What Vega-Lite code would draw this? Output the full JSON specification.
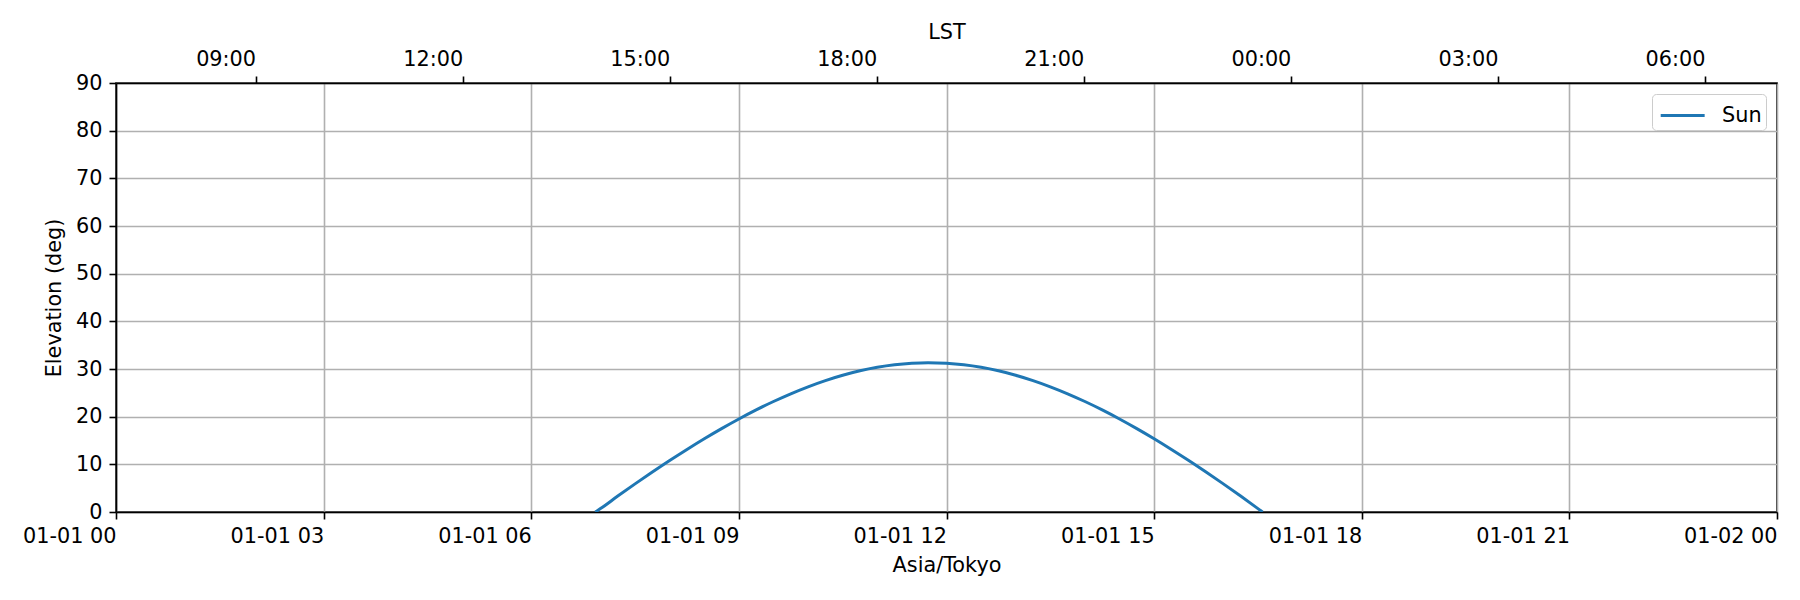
{
  "$schema": "https://vega.github.io/schema/vega-lite/v6.json",
  "width": 1661,
  "height": 429,
  "autosize": {"type": "none"},
  "padding": {"left": 116, "top": 83, "right": 23, "bottom": 88},
  "background": "white",
  "config": {
    "view": {"stroke": "black", "strokeWidth": 1.6},
    "font": "DejaVu Sans",
    "axis": {
      "labelFont": "DejaVu Sans",
      "labelFontSize": 20.8,
      "labelColor": "black",
      "titleFont": "DejaVu Sans",
      "titleFontSize": 20.8,
      "titleFontWeight": "normal",
      "titleColor": "black",
      "domainColor": "black",
      "domainWidth": 1.6,
      "tickColor": "black",
      "tickWidth": 1.6,
      "tickSize": 7,
      "labelPadding": 7,
      "gridColor": "#b0b0b0",
      "gridWidth": 1.6,
      "labelOverlap": false,
      "labelFlush": false
    },
    "legend": {
      "labelFont": "DejaVu Sans",
      "labelFontSize": 20.8,
      "labelColor": "black"
    }
  },
  "data": {
    "values": [
      {"time": "2024-01-01T06:55:30Z", "elevation": 0, "body": "Sun"},
      {"time": "2024-01-01T07:00:00Z", "elevation": 0.71, "body": "Sun"},
      {"time": "2024-01-01T07:15:00Z", "elevation": 3.34, "body": "Sun"},
      {"time": "2024-01-01T07:30:00Z", "elevation": 5.90, "body": "Sun"},
      {"time": "2024-01-01T07:45:00Z", "elevation": 8.39, "body": "Sun"},
      {"time": "2024-01-01T08:00:00Z", "elevation": 10.81, "body": "Sun"},
      {"time": "2024-01-01T08:15:00Z", "elevation": 13.13, "body": "Sun"},
      {"time": "2024-01-01T08:30:00Z", "elevation": 15.37, "body": "Sun"},
      {"time": "2024-01-01T08:45:00Z", "elevation": 17.50, "body": "Sun"},
      {"time": "2024-01-01T09:00:00Z", "elevation": 19.52, "body": "Sun"},
      {"time": "2024-01-01T09:15:00Z", "elevation": 21.42, "body": "Sun"},
      {"time": "2024-01-01T09:30:00Z", "elevation": 23.18, "body": "Sun"},
      {"time": "2024-01-01T09:45:00Z", "elevation": 24.80, "body": "Sun"},
      {"time": "2024-01-01T10:00:00Z", "elevation": 26.27, "body": "Sun"},
      {"time": "2024-01-01T10:15:00Z", "elevation": 27.57, "body": "Sun"},
      {"time": "2024-01-01T10:30:00Z", "elevation": 28.69, "body": "Sun"},
      {"time": "2024-01-01T10:45:00Z", "elevation": 29.62, "body": "Sun"},
      {"time": "2024-01-01T11:00:00Z", "elevation": 30.35, "body": "Sun"},
      {"time": "2024-01-01T11:15:00Z", "elevation": 30.88, "body": "Sun"},
      {"time": "2024-01-01T11:30:00Z", "elevation": 31.20, "body": "Sun"},
      {"time": "2024-01-01T11:44:00Z", "elevation": 31.32, "body": "Sun"},
      {"time": "2024-01-01T12:00:00Z", "elevation": 31.20, "body": "Sun"},
      {"time": "2024-01-01T12:15:00Z", "elevation": 30.88, "body": "Sun"},
      {"time": "2024-01-01T12:30:00Z", "elevation": 30.35, "body": "Sun"},
      {"time": "2024-01-01T12:45:00Z", "elevation": 29.62, "body": "Sun"},
      {"time": "2024-01-01T13:00:00Z", "elevation": 28.69, "body": "Sun"},
      {"time": "2024-01-01T13:15:00Z", "elevation": 27.57, "body": "Sun"},
      {"time": "2024-01-01T13:30:00Z", "elevation": 26.27, "body": "Sun"},
      {"time": "2024-01-01T13:45:00Z", "elevation": 24.80, "body": "Sun"},
      {"time": "2024-01-01T14:00:00Z", "elevation": 23.18, "body": "Sun"},
      {"time": "2024-01-01T14:15:00Z", "elevation": 21.42, "body": "Sun"},
      {"time": "2024-01-01T14:30:00Z", "elevation": 19.52, "body": "Sun"},
      {"time": "2024-01-01T14:45:00Z", "elevation": 17.50, "body": "Sun"},
      {"time": "2024-01-01T15:00:00Z", "elevation": 15.37, "body": "Sun"},
      {"time": "2024-01-01T15:15:00Z", "elevation": 13.13, "body": "Sun"},
      {"time": "2024-01-01T15:30:00Z", "elevation": 10.81, "body": "Sun"},
      {"time": "2024-01-01T15:45:00Z", "elevation": 8.39, "body": "Sun"},
      {"time": "2024-01-01T16:00:00Z", "elevation": 5.90, "body": "Sun"},
      {"time": "2024-01-01T16:15:00Z", "elevation": 3.34, "body": "Sun"},
      {"time": "2024-01-01T16:30:00Z", "elevation": 0.71, "body": "Sun"},
      {"time": "2024-01-01T16:34:00Z", "elevation": 0, "body": "Sun"}
    ]
  },
  "layer": [
    {
      "mark": {"type": "line", "strokeWidth": 3, "interpolate": "monotone", "clip": true},
      "encoding": {
        "x": {
          "field": "time",
          "type": "temporal",
          "scale": {
            "type": "utc",
            "domain": [
              {"year": 2024, "month": 1, "date": 1, "hours": 0, "utc": true},
              {"year": 2024, "month": 1, "date": 2, "hours": 0, "utc": true}
            ]
          },
          "axis": {
            "orient": "bottom",
            "title": "Asia/Tokyo",
            "titlePadding": 10,
            "labelExpr": "utcFormat(datum.value, '%m-%d %H')",
            "labelAlign": "right",
            "grid": true,
            "values": [
              {"year": 2024, "month": 1, "date": 1, "hours": 0, "utc": true},
              {"year": 2024, "month": 1, "date": 1, "hours": 3, "utc": true},
              {"year": 2024, "month": 1, "date": 1, "hours": 6, "utc": true},
              {"year": 2024, "month": 1, "date": 1, "hours": 9, "utc": true},
              {"year": 2024, "month": 1, "date": 1, "hours": 12, "utc": true},
              {"year": 2024, "month": 1, "date": 1, "hours": 15, "utc": true},
              {"year": 2024, "month": 1, "date": 1, "hours": 18, "utc": true},
              {"year": 2024, "month": 1, "date": 1, "hours": 21, "utc": true},
              {"year": 2024, "month": 1, "date": 2, "hours": 0, "utc": true}
            ]
          }
        },
        "y": {
          "field": "elevation",
          "type": "quantitative",
          "scale": {"domain": [0, 90], "nice": false, "zero": false},
          "axis": {
            "title": "Elevation (deg)",
            "values": [0, 10, 20, 30, 40, 50, 60, 70, 80, 90],
            "grid": true,
            "titlePadding": 11
          }
        },
        "color": {
          "field": "body",
          "type": "nominal",
          "scale": {"range": ["#1f77b4"]},
          "legend": {
            "title": null,
            "orient": "top-right",
            "offset": 11,
            "symbolType": "M-0.81,0L1.97,0",
            "symbolStrokeWidth": 3,
            "symbolSize": 1000,
            "labelOffset": 31,
            "padding": 4,
            "strokeColor": "#cccccc",
            "fillColor": "white",
            "cornerRadius": 4
          }
        }
      }
    },
    {
      "data": {
        "values": [
          {"lst": "2024-01-01T09:00:00Z"},
          {"lst": "2024-01-01T12:00:00Z"},
          {"lst": "2024-01-01T15:00:00Z"},
          {"lst": "2024-01-01T18:00:00Z"},
          {"lst": "2024-01-01T21:00:00Z"},
          {"lst": "2024-01-02T00:00:00Z"},
          {"lst": "2024-01-02T03:00:00Z"},
          {"lst": "2024-01-02T06:00:00Z"}
        ]
      },
      "mark": {"type": "rule", "opacity": 0},
      "encoding": {
        "x": {
          "field": "lst",
          "type": "temporal",
          "scale": {
            "type": "utc",
            "domain": [
              {"year": 2024, "month": 1, "date": 1, "hours": 6, "minutes": 58, "seconds": 40, "utc": true},
              {"year": 2024, "month": 1, "date": 2, "hours": 7, "minutes": 2, "seconds": 37, "utc": true}
            ]
          },
          "axis": {
            "orient": "top",
            "title": "LST",
            "titlePadding": 6,
            "labelExpr": "utcFormat(datum.value, '%H:%M')",
            "labelAlign": "right",
            "grid": false,
            "values": [
              {"year": 2024, "month": 1, "date": 1, "hours": 9, "utc": true},
              {"year": 2024, "month": 1, "date": 1, "hours": 12, "utc": true},
              {"year": 2024, "month": 1, "date": 1, "hours": 15, "utc": true},
              {"year": 2024, "month": 1, "date": 1, "hours": 18, "utc": true},
              {"year": 2024, "month": 1, "date": 1, "hours": 21, "utc": true},
              {"year": 2024, "month": 1, "date": 2, "hours": 0, "utc": true},
              {"year": 2024, "month": 1, "date": 2, "hours": 3, "utc": true},
              {"year": 2024, "month": 1, "date": 2, "hours": 6, "utc": true}
            ]
          }
        }
      }
    }
  ],
  "resolve": {"scale": {"x": "independent"}, "axis": {"x": "independent"}}
}
